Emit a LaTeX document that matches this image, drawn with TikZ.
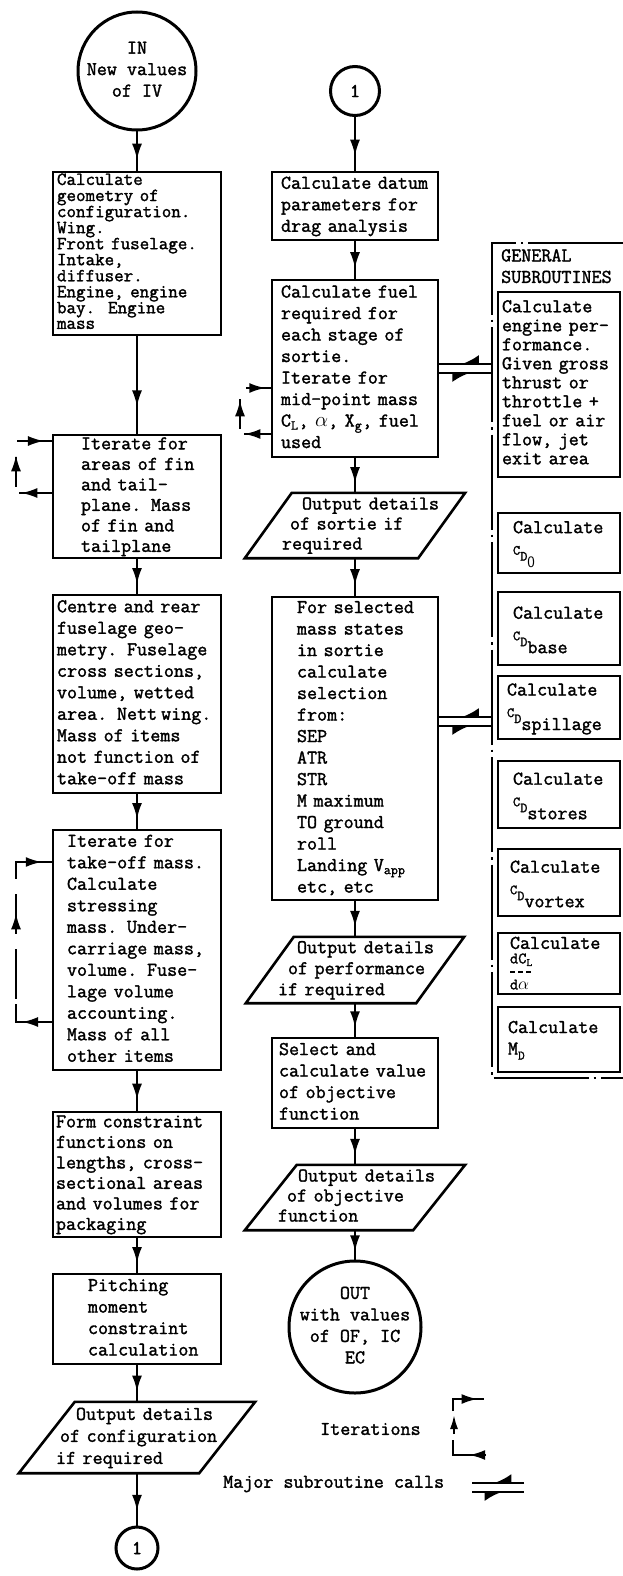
\documentclass[tikz,border=0pt]{standalone}
\usepackage{fontspec}
\newfontfamily\typefont{lmmono12-regular.otf}[FakeBold=1.6]
\usetikzlibrary{arrows.meta,decorations.markings}
\newcommand\boxlines[1]{\begin{tabular}{@{}l@{}}#1\end{tabular}}
\newcommand\circtext[1]{\smash{\raisebox{-5pt}{\makebox[0pt]{\begin{tabular}{@{}c@{}}#1\end{tabular}}}}}
\newcommand\cdlabel[1]{{\fontsize{14}{14}\selectfont C\raisebox{-6pt}{D}}\raisebox{-13pt}{#1}}
\newcommand\fracbar{\rule[3pt]{5pt}{1.5pt}\hspace{3pt}\rule[3pt]{5pt}{1.5pt}\hspace{3pt}\rule[3pt]{5pt}{1.5pt}}
\newcommand\drawpara[2]{\draw[paraline] ([xshift=#2]#1.north west) -- ([xshift=#2]#1.north east) -- ([xshift=-#2]#1.south east) -- ([xshift=-#2]#1.south west) -- cycle;}
\tikzset{
  fbox/.style={draw, line width=2.6pt, rectangle, inner ysep=0pt, align=left},
  ghost/.style={rectangle, inner ysep=0pt, align=left},
  paraline/.style={line width=2.6pt, line join=miter},
  ccl/.style={draw, circle, line width=3pt, inner sep=0pt},
  onearrow/.style={line width=2pt, postaction={decorate}, decoration={markings, mark=at position #1 with {\arrow{Latex[length=16pt,width=10pt]}}}},
  conn/.style={onearrow=0.72},
  iterloop/.style n args={4}{line width=2pt, dash pattern=#4, postaction={decorate}, decoration={markings,
      mark=at position #1 with {\arrow{Latex[length=16pt,width=10pt]}},
      mark=at position #2 with {\arrow{Latex[length=16pt,width=10pt]}},
      mark=at position #3 with {\arrow{Latex[length=16pt,width=10pt]}}}},
  call/.style={line width=1.8pt, postaction={decorate}, decoration={markings, mark=at position 0.62 with {\arrow{Latex[harpoon,swap,length=17pt,width=18pt]}}}},
  frameline/.style={line width=2.2pt, dash pattern=on 95pt off 5pt on 2.5pt off 5pt},
}
\begin{document}
\begin{tikzpicture}[x=1pt,y=-1pt, every node/.append style={font=\typefont\fontsize{19.5}{21.5}\selectfont}]
\useasboundingbox (0,0) rectangle (623,1576);

% ---------------- left column ----------------
\node[ccl, minimum size=118pt] (in) at (137,71) {\circtext{IN\\New values\\of IV}};
\node[fbox, minimum width=168pt, minimum height=163pt, text width=160pt, inner xsep=4pt] (b1) at (137,253.5)
  {\noindent\fontsize{18.5}{15.6}\selectfont\boxlines{Calculate\\geometry of\\configuration.\\Wing.\\Front fuselage.\\Intake,\\diffuser.\\Engine, engine\\bay.~~Engine\\mass}};
\node[fbox, minimum width=168pt, minimum height=123pt, text width=112pt, inner xsep=28pt] (b2) at (137,496.5)
  {\noindent\fontsize{19.5}{20.5}\selectfont\boxlines{Iterate for\\areas of fin\\and tail-\\plane. Mass\\of fin and\\tailplane}};
\node[fbox, minimum width=168pt, minimum height=198pt, text width=160pt, inner xsep=4pt] (b3) at (137,694)
  {\noindent\boxlines{Centre and rear\\fuselage geo-\\metry. Fuselage\\cross sections,\\volume, wetted\\area. Nett\hspace{4pt}wing.\\Mass of items\\not function of\\take-off mass}};
\node[fbox, minimum width=168pt, minimum height=240pt, text width=140pt, inner xsep=14pt] (b4) at (137,950)
  {\noindent\boxlines{Iterate for\\take-off mass.\\Calculate\\stressing\\mass. Under-\\carriage mass,\\volume. Fuse-\\lage volume\\accounting.\\Mass of all\\other items}};
\node[fbox, minimum width=168pt, minimum height=125pt, text width=162pt, inner xsep=3pt] (b5) at (137,1174.5)
  {\noindent\fontsize{19.5}{20.5}\selectfont\boxlines{Form constraint\\functions on\\lengths, cross-\\sectional areas\\and volumes for\\packaging}};
\node[fbox, minimum width=168pt, minimum height=90pt, text width=98pt, inner xsep=35pt] (b6) at (137,1319)
  {\noindent\boxlines{Pitching\\moment\\constraint\\calculation}};
\node[ghost, minimum width=180pt, minimum height=71pt, text width=162pt, inner xsep=9pt] (p1) at (137,1437.5)
  {\noindent\fontsize{19.5}{22}\selectfont\boxlines{\hspace*{20pt}Output details\\\hspace*{4pt}of configuration\\if required}};
\drawpara{p1}{28pt}
\node[ccl, minimum size=42pt] (e1) at (137,1548) {1};

\draw[conn] (in) -- (b1);
\draw[conn] (b1) -- (b2);
\draw[conn] (b2) -- (b3);
\draw[conn] (b3) -- (b4);
\draw[conn] (b4) -- (b5);
\draw[conn] (b5) -- (b6);
\draw[conn] (b6) -- (p1);
\draw[conn] (p1) -- (e1);

% iteration loops, left column
\coordinate (la1) at (16,441);
\coordinate (la2) at (16,493);
\draw[iterloop={0.246}{0.595}{0.937}{on 33pt off 9pt on 30pt off 17pt on 40pt off 1pt}]
  (b2.west |- la2) -- (la2) -- (la1) -- (b2.west |- la1);
\coordinate (lb1) at (16,862);
\coordinate (lb2) at (16,1022);
\draw[iterloop={0.128}{0.624}{0.957}{on 54pt off 5pt on 50pt off 15pt on 40pt off 15pt on 55pt off 1pt}]
  (b4.west |- lb2) -- (lb2) -- (lb1) -- (b4.west |- lb1);

% ---------------- middle column ----------------
\node[ccl, minimum size=49pt] (c1) at (355,91) {1};
\node[fbox, minimum width=166pt, minimum height=68pt, text width=148pt, inner xsep=9pt] (m1) at (355,206)
  {\noindent\boxlines{Calculate datum\\parameters for\\drag analysis}};
\node[fbox, minimum width=166pt, minimum height=177pt, text width=148pt, inner xsep=9pt] (m2) at (355,368.5)
  {\noindent\boxlines{Calculate fuel\\required for\\each stage of\\sortie.\\Iterate for\\mid-point mass\\C\textsubscript{L}, $\alpha$, X\textsubscript{g}, fuel\\used}};
\node[ghost, minimum width=173pt, minimum height=65pt, text width=146pt, inner xsep=13.5pt] (mp1) at (355,525.5)
  {\noindent\fontsize{19.5}{20}\selectfont\boxlines{\hspace*{20pt}Output details\\\hspace*{8pt}of sortie if\\required}};
\drawpara{mp1}{23.5pt}
\node[fbox, minimum width=166pt, minimum height=303pt, text width=116pt, inner xsep=25pt] (m3) at (355,748.5)
  {\noindent\boxlines{For selected\\mass states\\in sortie\\calculate\\selection\\from:\\SEP\\ATR\\STR\\M maximum\\TO ground\\roll\\Landing V\textsubscript{app}\\etc, etc}};
\node[ghost, minimum width=170pt, minimum height=66pt, text width=154pt, inner xsep=8pt] (mp2) at (355,970)
  {\noindent\fontsize{19.5}{21}\selectfont\boxlines{\hspace*{19pt}Output details\\\hspace*{10pt}of performance\\if required}};
\drawpara{mp2}{24pt}
\node[fbox, minimum width=166pt, minimum height=90pt, text width=152pt, inner xsep=7pt] (m4) at (355,1083)
  {\noindent\boxlines{Select and\\calculate value\\of objective\\function}};
\node[ghost, minimum width=168pt, minimum height=65pt, text width=154pt, inner xsep=7pt] (mp3) at (355,1197.5)
  {\noindent\fontsize{19.5}{20}\selectfont\boxlines{\hspace*{20pt}Output details\\\hspace*{9pt}of objective\\function}};
\drawpara{mp3}{26pt}
\node[ccl, minimum size=132pt] (out) at (355,1327) {\circtext{OUT\\with values\\of OF, IC\\EC}};

\draw[conn] (c1) -- (m1);
\draw[conn] (m1) -- (m2);
\draw[conn] (m2) -- (mp1);
\draw[conn] (mp1) -- (m3);
\draw[conn] (m3) -- (mp2);
\draw[conn] (mp2) -- (m4);
\draw[conn] (m4) -- (mp3);
\draw[conn] (mp3) -- (out);

\coordinate (lc1) at (240,388);
\coordinate (lc2) at (240,434);
\draw[iterloop={0.245}{0.6}{0.95}{on 27pt off 9pt on 30pt off 17pt on 27pt off 1pt}]
  (m2.west |- lc2) -- (lc2) -- (lc1) -- (m2.west |- lc1);

% ---------------- general subroutines ----------------
\coordinate (f1) at (623,243);
\coordinate (f2) at (492,243);
\coordinate (f3) at (492,1078);
\coordinate (f4) at (623,1078);
\draw[frameline] (f1) -- (f2) -- (f3) -- (f4);
\node[anchor=north west, inner sep=0pt, align=left] (gs) at (501,249) {GENERAL\\SUBROUTINES};

\node[fbox, minimum width=122pt, minimum height=185pt, text width=114pt, inner xsep=4pt] (s1) at (559,384.5)
  {\noindent\fontsize{19.5}{19}\selectfont\boxlines{Calculate\\engine per-\\formance.\\Given gross\\thrust or\\throttle +\\fuel or air\\flow, jet\\exit area}};
\node[fbox, minimum width=122pt, minimum height=60pt, text width=92pt, inner xsep=15pt] (s2) at (559,543)
  {\noindent\boxlines{Calculate\\\cdlabel{{\fontsize{16}{16}\selectfont\sffamily 0}}}};
\node[fbox, minimum width=122pt, minimum height=73pt, text width=92pt, inner xsep=15pt] (s3) at (559,628.5)
  {\noindent\boxlines{Calculate\\\cdlabel{base}}};
\node[fbox, minimum width=122pt, minimum height=63pt, text width=104pt, inner xsep=9pt] (s4) at (559,707.5)
  {\noindent\boxlines{Calculate\\\cdlabel{spillage}}};
\node[fbox, minimum width=122pt, minimum height=67pt, text width=92pt, inner xsep=15pt] (s5) at (559,794.5)
  {\noindent\boxlines{Calculate\\\cdlabel{stores}}};
\node[fbox, minimum width=122pt, minimum height=67pt, text width=98pt, inner xsep=12pt] (s6) at (559,882.5)
  {\noindent\boxlines{Calculate\\\cdlabel{vortex}}};
\node[fbox, minimum width=122pt, minimum height=61pt, text width=98pt, inner xsep=12pt] (s7) at (559,963.5)
  {\noindent\boxlines{Calculate\\[-7pt]{\fontsize{16}{12.5}\selectfont\begin{tabular}[t]{@{}l@{}}dC\textsubscript{L}\\\fracbar\\d$\alpha$\end{tabular}}}};
\node[fbox, minimum width=122pt, minimum height=65pt, text width=102pt, inner xsep=10pt] (s8) at (559,1039.5)
  {\noindent\boxlines{Calculate\\M\raisebox{-5pt}{\fontsize{13}{13}\selectfont D}}};

% subroutine calls
\coordinate (k1) at (492,364);
\coordinate (k2) at (492,373);
\coordinate (k3) at (492,717);
\coordinate (k4) at (492,726);
\draw[call] (k1) -- (m2.east |- k1);
\draw[call] (m2.east |- k2) -- (k2);
\draw[call] (k3) -- (m3.east |- k3);
\draw[call] (m3.east |- k4) -- (k4);

% ---------------- legend ----------------
\node[anchor=west, inner sep=0pt] (itl) at (320,1429) {Iterations};
\coordinate (r1) at (453,1411);
\coordinate (r2) at (453,1399);
\coordinate (r3) at (484,1399);
\draw[onearrow=0.85] (r1) -- (r2) -- (r3);
\coordinate (r4) at (454,1434);
\coordinate (r5) at (454,1415);
\draw[line width=2pt, -{Latex[length=14pt,width=8pt]}] (r4) -- (r5);
\coordinate (r6) at (486,1455);
\coordinate (r7) at (453,1455);
\coordinate (r8) at (453,1440);
\draw[onearrow=0.35] (r6) -- (r7) -- (r8);

\node[anchor=west, inner sep=0pt] (msl) at (223,1484) {Major subroutine calls};
\coordinate (q1) at (472,1483);
\coordinate (q2) at (524,1483);
\coordinate (q3) at (472,1492);
\coordinate (q4) at (524,1492);
\draw[call] (q2) -- (q1);
\draw[call] (q3) -- (q4);
\end{tikzpicture}
\end{document}
